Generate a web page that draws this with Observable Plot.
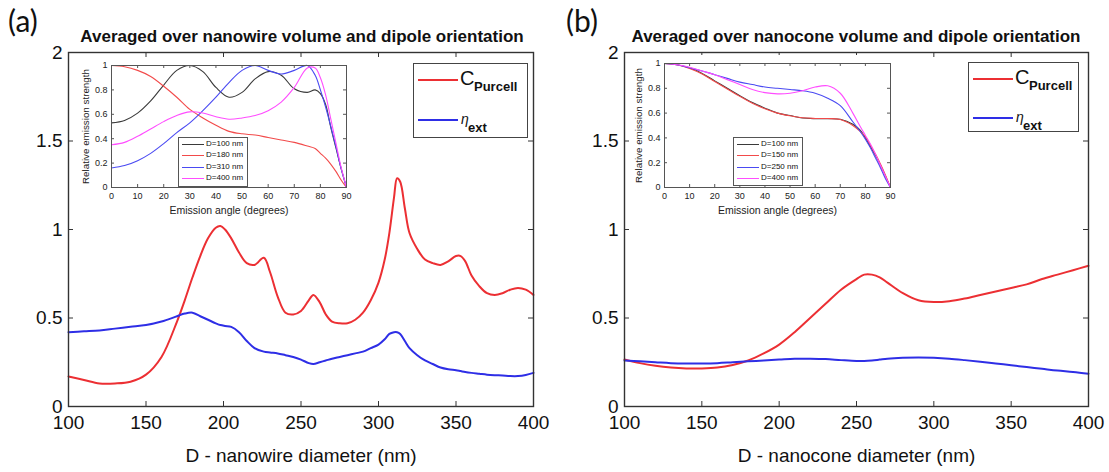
<!DOCTYPE html>
<html><head><meta charset="utf-8">
<script src="https://cdn.jsdelivr.net/npm/d3@7"></script>
<script src="https://cdn.jsdelivr.net/npm/@observablehq/plot@0.6"></script>
<style>
body{margin:0;background:#fff;}
#root{position:relative;width:1109px;height:472px;overflow:hidden;background:#fff;font-family:"Liberation Sans",Arial,sans-serif;color:#111;}
#root svg{position:absolute;}
.panel{position:absolute;font-family:Lato,"Noto Sans",sans-serif;font-size:30px;line-height:30px;color:#111;}
.title{position:absolute;font-weight:bold;font-size:17px;line-height:17px;white-space:nowrap;transform:translateX(-50%);color:#111;}
.legend{position:absolute;background:#fff;border:1.3px solid #444;box-sizing:border-box;}
.legend div{position:absolute;white-space:nowrap;line-height:1;}
.sw{height:1.8px;}
.ileg{position:absolute;background:#fff;border:1px solid #555;box-sizing:border-box;font-size:8px;}
.ileg div{position:absolute;white-space:nowrap;line-height:8px;}
.isw{height:1px;}
</style>
</head><body>
<div id="root"></div>
<script>
// ---------- data ----------
const xTicks = [100,150,200,250,300,350,400];
const yTicks = [0,0.5,1,1.5,2];
const angTicks = [0,10,20,30,40,50,60,70,80,90];
const relTicks = [0,0.2,0.4,0.6,0.8,1];

// panel (a): nanowire
const wireD = [100,110,120,130,140,150,160,170,175,180,185,190,195,198,201,205,210,215,220,226,230,235,240,245,250,255,258,262,266,270,275,280,285,290,295,300,304,307,310,312,314,317,320,325,330,335,340,345,350,353,356,360,365,370,375,380,385,390,395,400];
const wirePurcell = [0.17,0.15,0.13,0.13,0.14,0.18,0.28,0.48,0.60,0.73,0.85,0.95,1.01,1.02,1.00,0.95,0.87,0.81,0.80,0.84,0.76,0.62,0.53,0.52,0.54,0.60,0.63,0.59,0.52,0.48,0.47,0.47,0.49,0.53,0.60,0.70,0.83,0.98,1.18,1.29,1.27,1.12,0.98,0.89,0.83,0.81,0.80,0.82,0.85,0.85,0.82,0.74,0.68,0.64,0.63,0.64,0.66,0.67,0.66,0.63];
const wireEta = [0.42,0.425,0.43,0.44,0.45,0.46,0.48,0.51,0.525,0.53,0.51,0.49,0.47,0.46,0.455,0.45,0.42,0.37,0.33,0.31,0.305,0.30,0.29,0.28,0.265,0.245,0.24,0.25,0.26,0.27,0.28,0.29,0.30,0.31,0.33,0.35,0.38,0.41,0.42,0.42,0.41,0.37,0.33,0.29,0.26,0.24,0.22,0.21,0.205,0.20,0.195,0.19,0.185,0.18,0.177,0.175,0.172,0.172,0.178,0.19];

// panel (b): nanocone
const coneD = [100,110,120,130,140,150,160,170,180,190,200,210,220,230,240,250,255,260,265,270,280,290,300,310,320,330,340,350,360,370,380,390,400];
const conePurcell = [0.265,0.245,0.23,0.22,0.215,0.215,0.22,0.235,0.26,0.30,0.35,0.42,0.50,0.58,0.66,0.72,0.745,0.745,0.73,0.70,0.64,0.60,0.59,0.595,0.61,0.63,0.65,0.67,0.69,0.72,0.745,0.77,0.795];
const coneEta = [0.26,0.255,0.25,0.245,0.243,0.243,0.245,0.25,0.255,0.26,0.265,0.27,0.27,0.268,0.262,0.257,0.257,0.26,0.265,0.27,0.275,0.277,0.275,0.27,0.262,0.253,0.243,0.233,0.223,0.213,0.203,0.195,0.185];

// insets: emission angle vs relative emission strength
const angle = [0,5,10,15,20,25,30,35,40,45,50,55,60,65,70,75,78,80,82,84,86,88,90];
const wireLabels = ["D=100 nm","D=180 nm","D=310 nm","D=400 nm"];
const wireRel100 = [0.53,0.55,0.61,0.71,0.84,0.96,1.0,0.95,0.82,0.74,0.78,0.89,0.95,0.92,0.81,0.78,0.80,0.77,0.68,0.49,0.32,0.15,0.0];
const wireRel180 = [1.0,0.99,0.96,0.91,0.83,0.74,0.64,0.57,0.51,0.46,0.44,0.43,0.41,0.39,0.37,0.34,0.32,0.28,0.24,0.19,0.13,0.06,0.0];
const wireRel310 = [0.16,0.18,0.22,0.28,0.36,0.45,0.53,0.63,0.74,0.86,0.96,1.0,0.96,0.93,0.96,1.0,0.92,0.80,0.66,0.50,0.33,0.15,0.0];
const wireRel400 = [0.35,0.37,0.42,0.48,0.54,0.59,0.62,0.61,0.58,0.56,0.57,0.59,0.63,0.70,0.82,0.98,0.98,0.90,0.76,0.56,0.36,0.16,0.0];
const coneLabels = ["D=100 nm","D=150 nm","D=250 nm","D=400 nm"];
const coneRel100 = [1.0,0.99,0.965,0.92,0.86,0.80,0.74,0.685,0.64,0.60,0.58,0.56,0.555,0.555,0.55,0.51,0.46,0.40,0.33,0.26,0.18,0.09,0.0];
const coneRel150 = [1.0,0.99,0.96,0.915,0.855,0.795,0.735,0.68,0.635,0.60,0.578,0.562,0.557,0.556,0.548,0.50,0.45,0.41,0.34,0.27,0.19,0.10,0.0];
const coneRel250 = [1.0,0.99,0.965,0.94,0.91,0.88,0.85,0.83,0.81,0.80,0.79,0.78,0.76,0.72,0.66,0.53,0.45,0.39,0.32,0.24,0.16,0.07,0.0];
const coneRel400 = [1.0,0.99,0.97,0.94,0.91,0.87,0.83,0.79,0.765,0.755,0.76,0.78,0.81,0.82,0.76,0.60,0.49,0.42,0.35,0.27,0.18,0.09,0.0];

const RED = "#ec2f33", BLUE = "#2e2ee6";
const insetColors = ["#3a3a3a", "#f24a4a", "#4a4af2", "#ff4dff"];
const FONT = "Liberation Sans, Arial, sans-serif";
const root = document.getElementById("root");

function place(el, left, top) { el.style.left = left + "px"; el.style.top = top + "px"; root.appendChild(el); return el; }

function mainPanel(D, purcell, eta, xLabel, width, ml, mr) {
  const mt = 52, mb = 66, height = 472;
  const W = width - ml - mr, H = height - mt - mb;
  const rows = D.map((d, i) => ({D: d, p: purcell[i], e: eta[i]}));
  return Plot.plot({
    width, height, marginLeft: ml, marginRight: mr, marginTop: mt, marginBottom: mb,
    x: {domain: [100, 400]}, y: {domain: [0, 2]},
    style: {fontFamily: FONT, color: "#111", background: "transparent", overflow: "visible"},
    marks: [
      Plot.line(rows, {x: "D", y: "p", stroke: RED, strokeWidth: 2, curve: "catmull-rom"}),
      Plot.line(rows, {x: "D", y: "e", stroke: BLUE, strokeWidth: 2, curve: "catmull-rom"}),
      Plot.frame({stroke: "#333", strokeWidth: 1.4}),
      Plot.tickX(xTicks, {x: d => d, insetTop: H - 5, stroke: "#333"}),
      Plot.tickX(xTicks, {x: d => d, insetBottom: H - 5, stroke: "#333"}),
      Plot.tickY(yTicks, {y: d => d, insetRight: W - 5, stroke: "#333"}),
      Plot.tickY(yTicks, {y: d => d, insetLeft: W - 5, stroke: "#333"}),
      Plot.axisX(xTicks, {tickSize: 0, tickPadding: 9, fontSize: 19, label: null, tickFormat: d => String(d)}),
      Plot.axisY(yTicks, {tickSize: 0, tickPadding: 6, fontSize: 19, label: null, tickFormat: d => String(d)}),
      Plot.text([xLabel], {frameAnchor: "bottom", dy: 55, fontSize: 19, fill: "#111"})
    ]
  });
}

function insetPlot(series, width, height, ml, mr, mt, mb) {
  const W = width - ml - mr, H = height - mt - mb;
  const marks = series.map((s, k) => Plot.line(angle.map((a, i) => ({a, v: s[i]})), {x: "a", y: "v", stroke: insetColors[k], strokeWidth: 1.1, curve: "catmull-rom"}));
  return Plot.plot({
    width, height, marginLeft: ml, marginRight: mr, marginTop: mt, marginBottom: mb,
    x: {domain: [0, 90]}, y: {domain: [0, 1]},
    style: {fontFamily: FONT, color: "#222", background: "#fff", overflow: "visible"},
    marks: [
      ...marks,
      Plot.frame({stroke: "#555", strokeWidth: 1}),
      Plot.tickX(angTicks, {x: d => d, insetTop: H - 3, stroke: "#555"}),
      Plot.tickX(angTicks, {x: d => d, insetBottom: H - 3, stroke: "#555"}),
      Plot.tickY(relTicks, {y: d => d, insetRight: W - 3, stroke: "#555"}),
      Plot.tickY(relTicks, {y: d => d, insetLeft: W - 3, stroke: "#555"}),
      Plot.axisX(angTicks, {tickSize: 0, tickPadding: 5, fontSize: 9, label: null, tickFormat: d => String(d)}),
      Plot.axisY(relTicks, {tickSize: 0, tickPadding: 4, fontSize: 9, label: null, tickFormat: d => String(d)}),
      Plot.text(["Emission angle (degrees)"], {frameAnchor: "bottom", dy: 26, fontSize: 10.5, fill: "#222"}),
      Plot.text(["Relative emission strength"], {frameAnchor: "left", dx: -26, rotate: -90, textAnchor: "middle", lineAnchor: "middle", fontSize: 9.8, fill: "#222"})
    ]
  });
}

function mainLegend(left, top, w, h, r2) {
  const box = document.createElement("div");
  box.className = "legend";
  box.style.width = w + "px"; box.style.height = h + "px";
  box.innerHTML = `
    <div class="sw" style="left:4px;top:15px;width:40px;background:${RED}"></div>
    <div style="left:46px;top:4px;font-size:20px;">C</div>
    <div style="left:60px;top:16px;font-size:13px;font-weight:bold;">Purcell</div>
    <div class="sw" style="left:4px;top:${r2}px;width:40px;background:${BLUE}"></div>
    <div style="left:47px;top:${r2 - 7}px;font-size:14px;font-style:italic;">η</div>
    <div style="left:54px;top:${r2 + 2}px;font-size:13px;font-weight:bold;">ext</div>`;
  return place(box, left, top);
}

function insetLegend(left, top, w, h, labels) {
  const box = document.createElement("div");
  box.className = "ileg";
  box.style.width = w + "px"; box.style.height = h + "px";
  box.innerHTML = labels.map((t, k) => `
    <div class="isw" style="left:3px;top:${6 + k * 11.4}px;width:22px;background:${insetColors[k]}"></div>
    <div style="left:27px;top:${2 + k * 11.4}px;">${t}</div>`).join("");
  return place(box, left, top);
}

function text(cls, str, left, top) {
  const d = document.createElement("div"); d.className = cls; d.textContent = str; return place(d, left, top);
}

// panel (a)
place(mainPanel(wireD, wirePurcell, wireEta, "D - nanowire diameter (nm)", 555, 68, 22), 0, 0);
place(insetPlot([wireRel100, wireRel180, wireRel310, wireRel400], 276, 164, 33, 8, 8, 34), 78, 57);
insetLegend(178, 137, 70, 50, wireLabels);
mainLegend(413, 63, 115, 75, 55);
text("panel", "(a)", 8, 5);
text("title", "Averaged over nanowire volume and dipole orientation", 302, 28);

// panel (b)
place(mainPanel(coneD, conePurcell, coneEta, "D - nanocone diameter (nm)", 554, 69, 21), 555, 0);
place(insetPlot([coneRel100, coneRel150, coneRel250, coneRel400], 267, 166, 33, 8, 8, 34), 631, 55);
insetLegend(733, 137, 70, 49, coneLabels);
mainLegend(968, 62, 111, 70, 54);
text("panel", "(b)", 566, 5);
text("title", "Averaged over nanocone volume and dipole orientation", 856, 28);
</script>
</body></html>
